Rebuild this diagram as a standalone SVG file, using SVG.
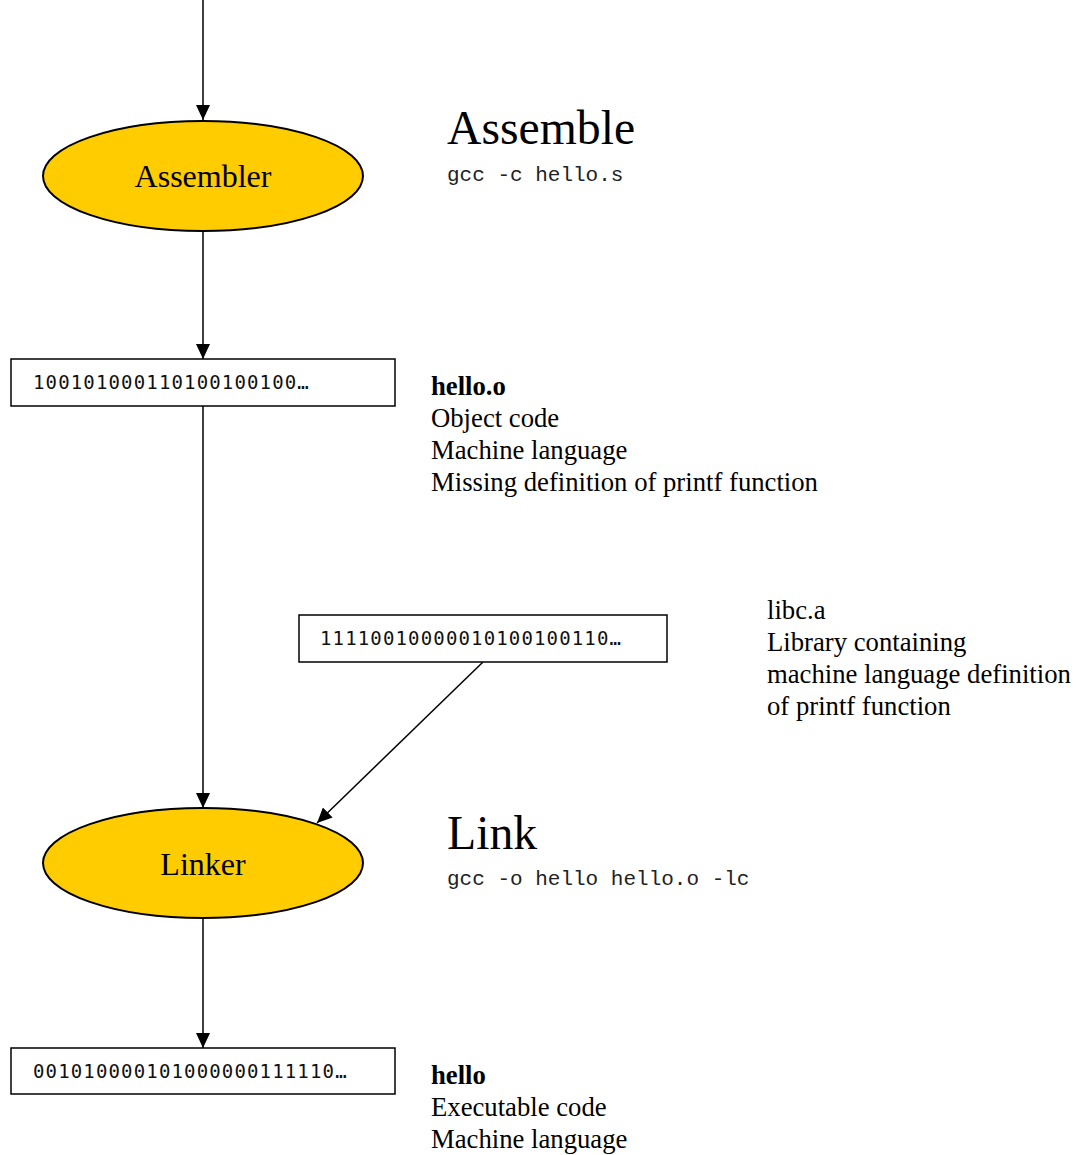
<svg xmlns="http://www.w3.org/2000/svg" width="1081" height="1155" viewBox="0 0 1081 1155">
<style>
.ell{fill:#FFCC00;stroke:#000;stroke-width:2}
.box{fill:#fff;stroke:#000;stroke-width:1.5}
.edge{stroke:#000;stroke-width:1.5;fill:none}
.bin{font-family:"DejaVu Sans Mono",monospace;font-size:19px;letter-spacing:1.15px;fill:#111}
.code{font-family:"Liberation Mono",monospace;font-size:21px;fill:#222}
.ser{font-family:"Liberation Serif",serif;font-size:26.7px;fill:#000}
.big{font-family:"Liberation Serif",serif;font-size:47.7px;fill:#000}
.nl{font-family:"Liberation Serif",serif;font-size:32px;fill:#000;text-anchor:middle}
</style>
<defs>
<marker id="arr" markerUnits="userSpaceOnUse" markerWidth="16" markerHeight="14" refX="15" refY="7" orient="auto">
<path d="M0,0 L15,7 L0,14 Z" fill="#000"/>
</marker>
</defs>
<rect width="1081" height="1155" fill="#fff"/>
<g id="connectors">
<line class="edge" x1="203" y1="0" x2="203" y2="120" marker-end="url(#arr)"/>
<line class="edge" x1="203" y1="231" x2="203" y2="359" marker-end="url(#arr)"/>
<line class="edge" x1="203" y1="406" x2="203" y2="808" marker-end="url(#arr)"/>
<line class="edge" x1="483" y1="662" x2="317" y2="823" marker-end="url(#arr)"/>
<line class="edge" x1="203" y1="918" x2="203" y2="1048" marker-end="url(#arr)"/>
</g>
<g id="assembler">
<ellipse class="ell" cx="203" cy="176" rx="160" ry="55"/>
<text class="nl" x="203" y="187">Assembler</text>
</g>
<g id="assemble-label">
<text class="big" x="447" y="144">Assemble</text>
<text class="code" x="447" y="181">gcc -c hello.s</text>
</g>
<g id="hello-o">
<rect class="box" x="11" y="359" width="384" height="47"/>
<text class="bin" x="33" y="389">100101000110100100100…</text>
</g>
<g id="hello-o-label">
<text class="ser" x="431" y="395" font-weight="bold">hello.o</text>
<text class="ser" x="431" y="427">Object code</text>
<text class="ser" x="431" y="459">Machine language</text>
<text class="ser" x="431" y="491">Missing definition of printf function</text>
</g>
<g id="libc">
<rect class="box" x="299" y="615" width="368" height="47"/>
<text class="bin" x="320" y="645">11110010000010100100110…</text>
</g>
<g id="libc-label">
<text class="ser" x="767" y="619">libc.a</text>
<text class="ser" x="767" y="651">Library containing</text>
<text class="ser" x="767" y="683">machine language definition</text>
<text class="ser" x="767" y="715">of printf function</text>
</g>
<g id="linker">
<ellipse class="ell" cx="203" cy="863" rx="160" ry="55"/>
<text class="nl" x="203" y="875">Linker</text>
</g>
<g id="link-label">
<text class="big" x="447" y="849">Link</text>
<text class="code" x="447" y="885">gcc -o hello hello.o -lc</text>
</g>
<g id="hello">
<rect class="box" x="11" y="1048" width="384" height="46"/>
<text class="bin" x="33" y="1078">001010000101000000111110…</text>
</g>
<g id="hello-label">
<text class="ser" x="431" y="1084" font-weight="bold">hello</text>
<text class="ser" x="431" y="1116">Executable code</text>
<text class="ser" x="431" y="1148">Machine language</text>
</g>
</svg>
